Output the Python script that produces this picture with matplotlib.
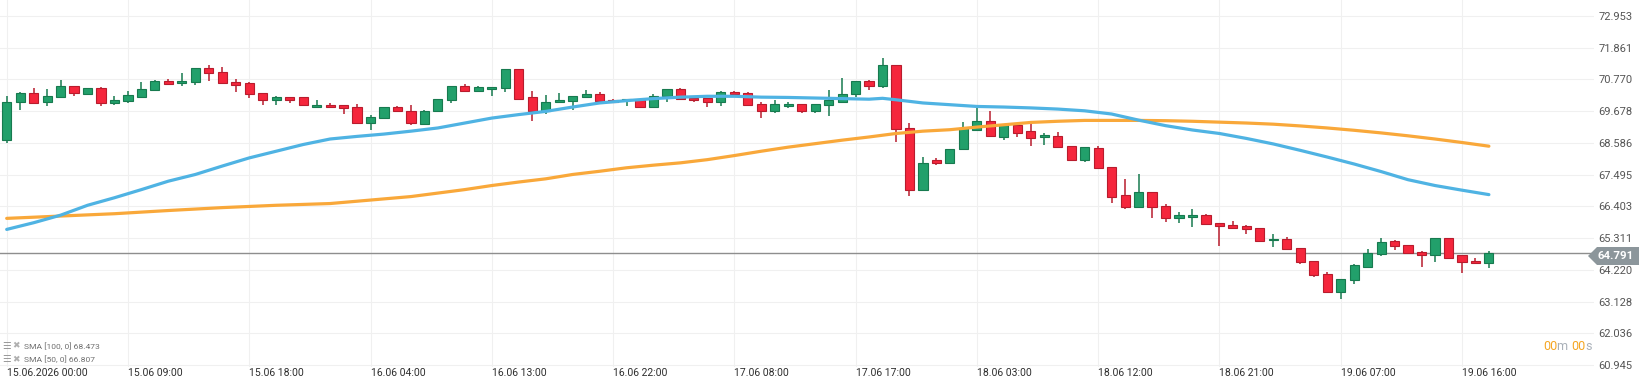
import numpy as np
import matplotlib.pyplot as plt
from matplotlib.patches import Polygon
from matplotlib.transforms import ScaledTranslation

plt.rcParams['font.family'] = ['Roboto', 'DejaVu Sans']

# hourly candles, 15.06 00:00 -> 19.06 18:00 (23:00 bar missing each day)
opens = [68.70, 69.98, 70.30, 69.98, 70.16, 70.55, 70.28, 70.47, 69.96, 70.04,
         70.16, 70.41, 70.70, 70.64, 70.68, 71.16, 71.02, 70.68, 70.64, 70.30,
         70.07, 70.16, 70.16, 69.82, 69.90, 69.90, 69.82, 69.27, 69.44, 69.81,
         69.70, 69.24, 69.67, 70.07, 70.53, 70.38, 70.44, 70.47, 71.12, 70.16,
         69.67, 69.98, 70.04, 70.16, 70.28, 70.07, 70.05, 70.07, 69.81, 70.19,
         70.44, 70.13, 70.13, 70.01, 70.32, 70.30, 69.93, 69.67, 69.87, 69.93,
         69.67, 69.88, 70.01, 70.27, 70.73, 70.53, 71.25, 69.10, 66.98, 67.99,
         67.90, 68.36, 69.04, 69.33, 68.79, 69.21, 69.01, 68.78, 68.84, 68.47,
         67.99, 68.41, 67.76, 66.78, 66.39, 66.89, 66.43, 66.00, 66.05, 66.10,
         65.82, 65.75, 65.73, 65.67, 65.24, 65.29, 64.98, 64.53, 64.09, 63.44,
         63.87, 64.33, 64.75, 65.20, 65.07, 64.83, 64.72, 65.33, 64.72, 64.54,
         64.47]
highs = [70.21, 70.33, 70.47, 70.44, 70.76, 70.55, 70.47, 70.51, 70.19, 70.36,
         70.67, 70.76, 70.78, 70.99, 71.16, 71.27, 71.21, 70.78, 70.68, 70.30,
         70.19, 70.16, 70.16, 70.05, 69.96, 69.90, 69.93, 69.56, 69.81, 69.84,
         69.90, 69.73, 70.11, 70.55, 70.61, 70.53, 70.50, 71.12, 71.12, 70.36,
         70.24, 70.30, 70.19, 70.39, 70.33, 70.09, 70.09, 70.09, 70.28, 70.44,
         70.47, 70.19, 70.13, 70.36, 70.36, 70.33, 70.01, 70.05, 70.01, 69.93,
         69.93, 70.39, 70.81, 70.70, 70.76, 71.50, 71.25, 69.27, 68.11, 68.07,
         68.38, 69.29, 69.79, 69.67, 69.21, 69.21, 69.25, 68.93, 68.96, 68.49,
         68.45, 68.47, 67.76, 67.33, 67.52, 66.89, 66.47, 66.22, 66.32, 66.13,
         65.82, 65.90, 65.75, 65.67, 65.46, 65.36, 64.98, 64.53, 64.13, 63.90,
         64.41, 64.93, 65.33, 65.23, 65.07, 64.87, 65.33, 65.33, 64.72, 64.64,
         64.87]
lows = [68.59, 69.73, 69.92, 69.84, 70.16, 70.19, 70.24, 69.84, 69.90, 69.96,
        70.16, 70.39, 70.59, 70.56, 70.59, 70.70, 70.64, 70.33, 70.13, 69.90,
        69.90, 69.96, 69.88, 69.82, 69.82, 69.59, 69.25, 69.02, 69.42, 69.65,
        69.21, 69.21, 69.65, 69.96, 70.36, 70.33, 70.19, 70.32, 70.09, 69.35,
        69.58, 69.98, 69.73, 70.16, 69.98, 69.98, 69.84, 69.79, 69.81, 69.99,
        70.09, 69.98, 69.82, 69.84, 70.19, 69.90, 69.44, 69.61, 69.79, 69.61,
        69.61, 69.50, 70.01, 70.16, 70.39, 70.47, 68.61, 66.76, 66.98, 67.82,
        67.88, 68.36, 69.02, 68.81, 68.70, 68.79, 68.47, 68.53, 68.44, 67.99,
        67.92, 67.73, 66.53, 66.30, 66.39, 66.01, 65.86, 65.84, 65.70, 65.78,
        65.04, 65.63, 65.46, 65.19, 65.02, 64.90, 64.41, 63.99, 63.44, 63.23,
        63.73, 64.33, 64.70, 64.90, 64.75, 64.32, 64.50, 64.64, 64.12, 64.43,
        64.27]
closes = [70.01, 70.30, 69.96, 70.19, 70.55, 70.30, 70.47, 69.96, 70.07, 70.22,
          70.44, 70.70, 70.61, 70.72, 71.16, 70.99, 70.64, 70.59, 70.27, 70.07,
          70.16, 70.07, 69.90, 69.90, 69.82, 69.79, 69.27, 69.48, 69.81, 69.67,
          69.27, 69.70, 70.11, 70.55, 70.36, 70.50, 70.50, 71.12, 70.09, 69.69,
          70.01, 70.07, 70.19, 70.28, 70.04, 69.98, 70.09, 69.81, 70.19, 70.44,
          70.09, 70.07, 70.01, 70.32, 70.27, 69.90, 69.67, 69.93, 69.93, 69.67,
          69.93, 70.07, 70.28, 70.70, 70.53, 71.25, 69.08, 66.98, 67.90, 67.90,
          68.38, 69.10, 69.33, 68.81, 69.21, 68.93, 68.76, 68.87, 68.44, 67.99,
          68.45, 67.73, 66.73, 66.39, 66.90, 66.39, 66.01, 66.09, 66.09, 65.78,
          65.73, 65.67, 65.63, 65.21, 65.29, 64.93, 64.49, 64.03, 63.44, 63.90,
          64.38, 64.81, 65.19, 65.04, 64.79, 64.72, 65.33, 64.64, 64.49, 64.47,
          64.791]

sma50_x = [0, 2, 4, 6, 8, 10, 12, 14, 16, 18, 20, 22, 24, 26, 28, 30, 32, 34, 36,
           38, 40, 42, 44, 46, 48, 50, 52, 54, 56, 58, 60, 62, 64, 65, 66, 68, 70,
           72, 74, 76, 78, 80, 82, 84, 86, 88, 90, 92, 94, 96, 98, 100, 102, 104,
           106, 108, 110]
sma50_y = [65.61, 65.84, 66.10, 66.44, 66.70, 66.98, 67.27, 67.50, 67.79, 68.07,
           68.30, 68.53, 68.72, 68.81, 68.89, 68.99, 69.10, 69.27, 69.44, 69.56,
           69.67, 69.82, 69.96, 70.04, 70.11, 70.16, 70.19, 70.19, 70.16, 70.15,
           70.13, 70.11, 70.09, 70.12, 70.07, 69.96, 69.90, 69.84, 69.82, 69.79,
           69.75, 69.69, 69.58, 69.37, 69.18, 69.03, 68.91, 68.74, 68.55, 68.33,
           68.10, 67.86, 67.60, 67.32, 67.12, 66.96, 66.807]
sma100_x = [0, 4, 8, 12, 16, 20, 24, 26, 28, 30, 32, 34, 36, 38, 40, 42, 44, 46,
            48, 50, 52, 54, 56, 58, 60, 62, 64, 66, 68, 70, 72, 74, 76, 78, 80, 82,
            84, 86, 88, 90, 92, 94, 96, 98, 100, 102, 104, 106, 108, 110]
sma100_y = [65.99, 66.07, 66.15, 66.26, 66.36, 66.44, 66.50, 66.58, 66.66, 66.74,
            66.86, 66.98, 67.12, 67.24, 67.35, 67.50, 67.61, 67.73, 67.82, 67.90,
            68.01, 68.15, 68.30, 68.44, 68.56, 68.68, 68.79, 68.91, 68.99, 69.04,
            69.13, 69.21, 69.29, 69.33, 69.36, 69.36, 69.36, 69.35, 69.33, 69.30,
            69.27, 69.23, 69.17, 69.10, 69.02, 68.93, 68.83, 68.72, 68.60, 68.473]

x_ticks = [0, 9, 18, 27, 36, 45, 54, 63, 72, 81, 90, 99, 108]
x_labels = ['15.06.2026 00:00', '15.06 09:00', '15.06 18:00', '16.06 04:00',
            '16.06 13:00', '16.06 22:00', '17.06 08:00', '17.06 17:00',
            '18.06 03:00', '18.06 12:00', '18.06 21:00', '19.06 07:00',
            '19.06 16:00']
y_ticks = [72.953, 71.861, 70.770, 69.678, 68.586, 67.495, 66.403, 65.311,
           64.220, 63.128, 62.036, 60.945]
last_price = 64.791

W, H = 1639, 385
fig = plt.figure(figsize=(W / 100, H / 100), dpi=100)
ax = fig.add_axes([0, 18 / H, 1594 / W, 1 - 18 / H])

o = np.array(opens)
h = np.array(highs)
l = np.array(lows)
c = np.array(closes)
idx = np.arange(len(o))
up = c >= o
body_col = np.where(up, '#22a06b', '#f5263c')
edge_col = np.where(up, '#177a4f', '#b81c2d')

ax.vlines(idx, l, h, colors=edge_col, linewidth=1.1, zorder=3)
bottom = np.minimum(o, c)
height = np.maximum(np.abs(c - o), 0.035)
ax.bar(idx, height, bottom=bottom, width=0.68, color=body_col,
       edgecolor=edge_col, linewidth=0.8, zorder=4)

ax.plot(sma100_x, sma100_y, color='#f9a83a', linewidth=2.3, zorder=5,
        solid_capstyle='round')
ax.plot(sma50_x, sma50_y, color='#4fb3e3', linewidth=2.3, zorder=5,
        solid_capstyle='round')

ax.axhline(last_price, color='#8e8e8e', linewidth=1.0, zorder=2)

ax.set_xlim(-0.497, 117.8)
ax.set_ylim(60.877, 73.502)

ax.set_xticks(x_ticks)
ax.set_xticklabels(x_labels, ha='left')
off = ScaledTranslation(1.5 / 100, 0, fig.dpi_scale_trans)
for lab in ax.get_xticklabels():
    lab.set_transform(lab.get_transform() + off)
ax.tick_params(axis='x', length=0, pad=1, labelsize=7.5, colors='#2e2e2e')

ax.yaxis.tick_right()
ax.set_yticks(y_ticks)
ax.set_yticklabels([f'{v:.3f}' for v in y_ticks])
ax.tick_params(axis='y', length=0, pad=3, labelsize=8, colors='#555555')

ax.grid(True, color='#f0f0f0', linewidth=0.8, zorder=0)
ax.set_axisbelow(True)
for s in ax.spines.values():
    s.set_visible(False)

# price tag on the right axis
ty = 1 - 256 / H
tag = Polygon([(1588 / W, ty), (1597 / W, ty + 9 / H), (1, ty + 9 / H),
               (1, ty - 9 / H), (1597 / W, ty - 9 / H)], closed=True,
              transform=fig.transFigure, facecolor='#8c969b', edgecolor='none',
              zorder=10)
fig.patches.append(tag)
fig.text(1598 / W, ty, f'{last_price:.3f}', color='white', fontsize=8.2,
         fontweight='bold', va='center', ha='left', zorder=11)

# indicator legend, bottom left
for row, (name, val) in enumerate([('SMA [100, 0]', 68.473), ('SMA [50, 0]', 66.807)]):
    yy = 1 - (346 + row * 13.5) / H
    fig.text(2 / W, yy, '☰', color='#9a9a9a', fontsize=7, va='center',
             family=['DejaVu Sans'])
    fig.text(12 / W, yy, '✖', color='#b0b0b0', fontsize=6.5, va='center',
             family=['DejaVu Sans'])
    fig.text(24 / W, yy, f'{name} {val:.3f}', color='#707070', fontsize=6.1,
             va='center')

# countdown text
fig.canvas.draw()
r = fig.canvas.get_renderer()
xpos = 1543
for piece, col in [('00', '#f5a623'), ('m ', '#a9b0b8'), ('00', '#f5a623'), ('s', '#a9b0b8')]:
    t = fig.text(xpos / W, 1 - 346 / H, piece, color=col, fontsize=9,
                 va='center', ha='left')
    xpos += t.get_window_extent(r).width

fig.savefig('out.png', dpi=100)
